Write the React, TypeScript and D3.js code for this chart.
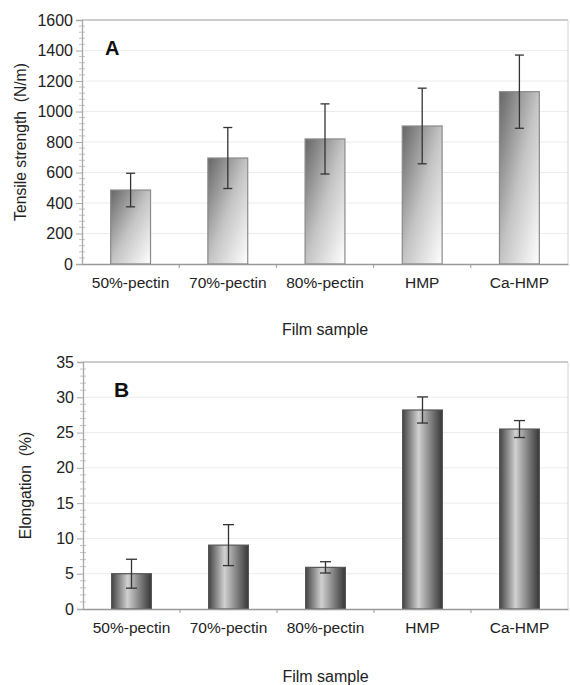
import React, { useEffect, useRef } from "react";
import * as d3 from "d3";

const categories = ["50%-pectin", "70%-pectin", "80%-pectin", "HMP", "Ca-HMP"];

// panel A - tensile strength (N/m)
const tensileMean = [485, 695, 820, 905, 1130];
const tensileErr = [110, 200, 230, 248, 240];
const tensileTicks = [0, 200, 400, 600, 800, 1000, 1200, 1400, 1600];

// panel B - elongation (%)
const elongMean = [5.0, 9.05, 5.9, 28.2, 25.5];
const elongErr = [2.05, 2.9, 0.8, 1.85, 1.2];
const elongTicks = [0, 5, 10, 15, 20, 25, 30, 35];

const FONT = "'Liberation Sans', Arial, Helvetica, sans-serif";

type Panel = {
  top: number;
  bottom: number;
  left: number;
  right: number;
  means: number[];
  errs: number[];
  ticks: number[];
  minorStep: number;
  yTitle: string;
  yTitleX: number;
  letter: string;
  letterX: number;
  letterY: number;
  letterSize: number;
  fill: string;
  stroke: string;
  capHalf: number;
  xTitleY: number;
};

function drawPanel(svg: d3.Selection<SVGSVGElement, unknown, null, undefined>, p: Panel) {
  const g = svg.append("g");
  const max = p.ticks[p.ticks.length - 1];

  const x = d3.scaleBand<string>().domain(categories).range([p.left, p.right]).paddingInner(0.59).paddingOuter(0.295);
  const band = d3.scaleBand<string>().domain(categories).range([p.left, p.right]);
  const y = d3.scaleLinear().domain([0, max]).range([p.bottom, p.top]);

  // gridlines
  g.selectAll(".grid")
    .data(p.ticks.slice(1, -1))
    .join("line")
    .attr("x1", p.left)
    .attr("x2", p.right)
    .attr("y1", (d) => y(d))
    .attr("y2", (d) => y(d))
    .attr("stroke", "#ececec")
    .attr("stroke-width", 1);

  // frame top / right
  g.append("line").attr("x1", p.left).attr("x2", p.right).attr("y1", p.top).attr("y2", p.top).attr("stroke", "#bdbdbd").attr("stroke-width", 1.3);
  g.append("line").attr("x1", p.right).attr("x2", p.right).attr("y1", p.top).attr("y2", p.bottom).attr("stroke", "#d4d4d4");

  // minor ticks on y axis
  const minors = d3.range(0, max + 1e-9, p.minorStep).filter((v) => !p.ticks.includes(v));
  g.selectAll(".minor")
    .data(minors)
    .join("line")
    .attr("x1", p.left - 3)
    .attr("x2", p.left + 3)
    .attr("y1", (d) => y(d))
    .attr("y2", (d) => y(d))
    .attr("stroke", "#c4c4c4");

  // bars
  g.selectAll(".bar")
    .data(p.means)
    .join("rect")
    .attr("x", (_, i) => x(categories[i])!)
    .attr("y", (d) => y(d))
    .attr("width", x.bandwidth())
    .attr("height", (d) => p.bottom - y(d))
    .attr("fill", p.fill)
    .attr("stroke", p.stroke)
    .attr("stroke-width", 1.2);

  // error bars
  const eb = g.selectAll(".err").data(p.means).join("g");
  const cx = (i: number) => x(categories[i])! + x.bandwidth() / 2;
  eb.append("line")
    .attr("x1", (_, i) => cx(i))
    .attr("x2", (_, i) => cx(i))
    .attr("y1", (d, i) => y(d + p.errs[i]))
    .attr("y2", (d, i) => y(d - p.errs[i]))
    .attr("stroke", "#333")
    .attr("stroke-width", 1.3);
  [1, -1].forEach((s) => {
    eb.append("line")
      .attr("x1", (_, i) => cx(i) - p.capHalf)
      .attr("x2", (_, i) => cx(i) + p.capHalf)
      .attr("y1", (d, i) => y(d + s * p.errs[i]))
      .attr("y2", (d, i) => y(d + s * p.errs[i]))
      .attr("stroke", "#333")
      .attr("stroke-width", 1.3);
  });

  // y axis
  const yAxis = g.append("g").attr("transform", `translate(${p.left},0)`)
    .call(d3.axisLeft(y).tickValues(p.ticks).tickSize(6).tickPadding(3).tickFormat(d3.format("d")));
  yAxis.select(".domain").attr("stroke", "#a8a8a8").attr("stroke-width", 1.3);
  yAxis.selectAll(".tick line").attr("stroke", "#a8a8a8");
  yAxis.selectAll("text").attr("font-family", FONT).attr("font-size", 16).attr("fill", "#222");

  // x axis
  const xAxis = g.append("g").attr("transform", `translate(0,${p.bottom})`)
    .call(d3.axisBottom(band).tickSize(0).tickPadding(13));
  xAxis.select(".domain").attr("stroke", "#999").attr("stroke-width", 1.3);
  xAxis.selectAll("text").attr("font-family", FONT).attr("font-size", 15.5).attr("fill", "#222");
  g.selectAll(".sep")
    .data(categories.slice(1))
    .join("line")
    .attr("x1", (d) => band(d)!)
    .attr("x2", (d) => band(d)!)
    .attr("y1", p.bottom)
    .attr("y2", p.bottom + 4)
    .attr("stroke", "#999");

  // titles
  g.append("text")
    .attr("transform", `translate(${p.yTitleX},${(p.top + p.bottom) / 2}) rotate(-90)`)
    .attr("text-anchor", "middle")
    .attr("font-family", FONT)
    .attr("font-size", 15.7)
    .attr("fill", "#222")
    .style("white-space", "pre")
    .text(p.yTitle);
  g.append("text")
    .attr("x", (p.left + p.right) / 2)
    .attr("y", p.xTitleY)
    .attr("text-anchor", "middle")
    .attr("font-family", FONT)
    .attr("font-size", 16)
    .attr("fill", "#222")
    .text("Film sample");
  g.append("text")
    .attr("x", p.letterX)
    .attr("y", p.letterY)
    .attr("font-family", FONT)
    .attr("font-weight", "bold")
    .attr("font-size", p.letterSize)
    .attr("fill", "#111")
    .text(p.letter);
}

export default function App() {
  const ref = useRef<SVGSVGElement>(null);

  useEffect(() => {
    const svg = d3.select(ref.current!);
    svg.selectAll("*").remove();

    const defs = svg.append("defs");
    const gA = defs.append("linearGradient").attr("id", "gradA").attr("x1", 0).attr("y1", 0).attr("x2", 1).attr("y2", 1);
    gA.append("stop").attr("offset", "0%").attr("stop-color", "#666");
    gA.append("stop").attr("offset", "50%").attr("stop-color", "#c4c4c4");
    gA.append("stop").attr("offset", "100%").attr("stop-color", "#ffffff");
    const gB = defs.append("linearGradient").attr("id", "gradB").attr("x1", 0).attr("y1", 0).attr("x2", 1).attr("y2", 0);
    gB.append("stop").attr("offset", "0%").attr("stop-color", "#444");
    gB.append("stop").attr("offset", "40%").attr("stop-color", "#d0d0d0");
    gB.append("stop").attr("offset", "100%").attr("stop-color", "#363636");

    drawPanel(svg, {
      top: 20, bottom: 264, left: 82, right: 568,
      means: tensileMean, errs: tensileErr, ticks: tensileTicks, minorStep: 40,
      yTitle: "Tensile strength  (N/m)", yTitleX: 26,
      letter: "A", letterX: 105, letterY: 55, letterSize: 20,
      fill: "url(#gradA)", stroke: "#8a8a8a", capHalf: 4.5, xTitleY: 335,
    });
    drawPanel(svg, {
      top: 362, bottom: 609, left: 83, right: 568,
      means: elongMean, errs: elongErr, ticks: elongTicks, minorStep: 1,
      yTitle: "Elongation  (%)", yTitleX: 31,
      letter: "B", letterX: 114, letterY: 397, letterSize: 21,
      fill: "url(#gradB)", stroke: "#555", capHalf: 5.5, xTitleY: 682,
    });
  }, []);

  return (
    <svg
      ref={ref}
      width={570}
      height={685}
      style={{ position: "absolute", left: 0, top: 0, background: "#fff" }}
    />
  );
}
